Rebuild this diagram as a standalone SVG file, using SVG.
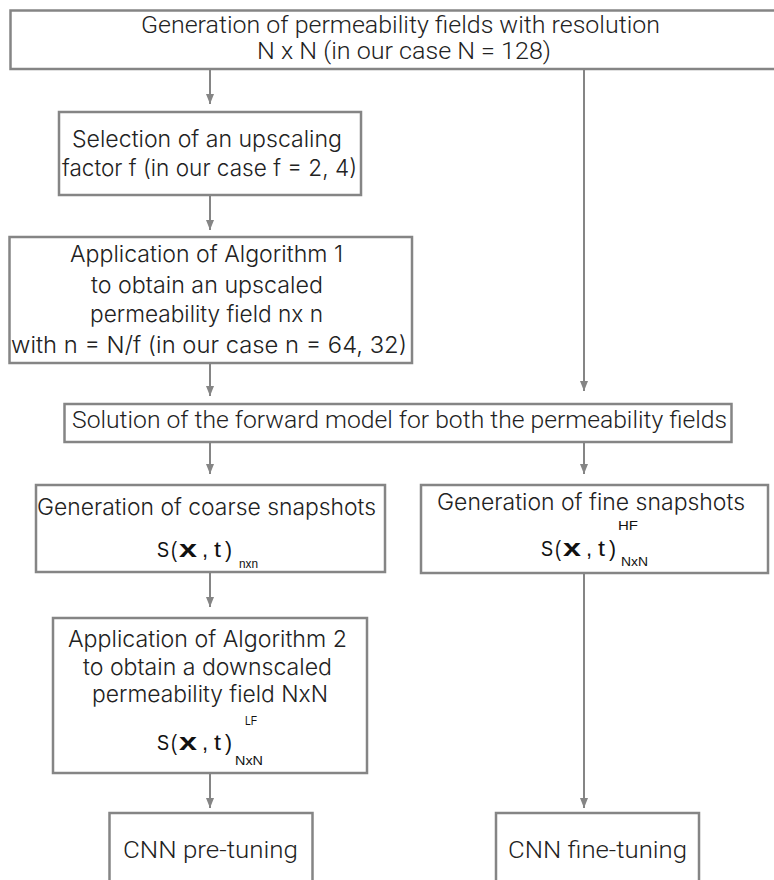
<svg xmlns="http://www.w3.org/2000/svg" width="774" height="880" viewBox="0 0 774 880">
<style>
.box{fill:#fff;stroke:#858585;stroke-width:2.5}
.t{font-family:Inter,"Open Sans","Liberation Sans",sans-serif;font-weight:300;font-size:23px;fill:#222}
.c{font-family:Roboto,"Liberation Sans",sans-serif;font-weight:300;font-size:23px;fill:#222}
.m{font-family:"Liberation Sans",Arial,sans-serif;font-size:22px;fill:#111}
.mb{font-weight:bold;font-size:23px}
.s{font-family:"Liberation Sans",Arial,sans-serif;font-size:13px;fill:#111}
.ln{stroke:#858585;stroke-width:2;fill:none}
</style>
<defs>
<marker id="ah" markerUnits="userSpaceOnUse" markerWidth="10" markerHeight="8" refX="10" refY="4" orient="auto">
<path d="M0,0 L10,4 L0,8 z" fill="#858585"/>
</marker>
</defs>
<rect width="774" height="880" fill="#fff"/>
<g id="connectors">
<line class="ln" x1="210" y1="69" x2="210" y2="104" marker-end="url(#ah)"/>
<line class="ln" x1="584" y1="69" x2="584" y2="391" marker-end="url(#ah)"/>
<line class="ln" x1="210" y1="195" x2="210" y2="230" marker-end="url(#ah)"/>
<line class="ln" x1="210" y1="363" x2="210" y2="396" marker-end="url(#ah)"/>
<line class="ln" x1="210" y1="442" x2="210" y2="474" marker-end="url(#ah)"/>
<line class="ln" x1="584" y1="442" x2="584" y2="474" marker-end="url(#ah)"/>
<line class="ln" x1="210" y1="572" x2="210" y2="607" marker-end="url(#ah)"/>
<line class="ln" x1="210" y1="773" x2="210" y2="808" marker-end="url(#ah)"/>
<line class="ln" x1="584" y1="573" x2="584" y2="808" marker-end="url(#ah)"/>
</g>
<g id="top">
<rect class="box" x="10.5" y="10.5" width="780" height="58.5"/>
<text class="c" x="141" y="32.5" textLength="519" lengthAdjust="spacingAndGlyphs">Generation of permeability fields with resolution</text>
<text class="c" x="257" y="58.5" textLength="294" lengthAdjust="spacingAndGlyphs">N x N (in our case N = 128)</text>
</g>
<g id="selection">
<rect class="box" x="59" y="112" width="302" height="83"/>
<text class="t" x="72" y="147" textLength="270" lengthAdjust="spacingAndGlyphs">Selection of an upscaling</text>
<text class="t" x="62" y="176" textLength="295" lengthAdjust="spacingAndGlyphs">factor f (in our case f = 2, 4)</text>
</g>
<g id="algorithm1">
<rect class="box" x="9.5" y="237" width="402.5" height="126"/>
<text class="t" x="70" y="262" textLength="273" lengthAdjust="spacingAndGlyphs">Application of Algorithm 1</text>
<text class="t" x="91" y="293" textLength="232" lengthAdjust="spacingAndGlyphs">to obtain an upscaled</text>
<text class="t" x="90" y="322" textLength="233" lengthAdjust="spacingAndGlyphs">permeability field nx n</text>
<text class="t" x="11" y="353" textLength="396" lengthAdjust="spacingAndGlyphs">with n = N/f (in our case n = 64, 32)</text>
</g>
<g id="solution">
<rect class="box" x="64.5" y="404" width="667" height="38"/>
<text class="c" x="72" y="428" textLength="655" lengthAdjust="spacingAndGlyphs">Solution of the forward model for both the permeability fields</text>
</g>
<g id="coarse">
<rect class="box" x="36" y="485" width="349" height="87"/>
<text class="t" x="37" y="515" textLength="339" lengthAdjust="spacingAndGlyphs">Generation of coarse snapshots</text>
<text class="m" y="557"><tspan x="157" textLength="12" lengthAdjust="spacingAndGlyphs">S</tspan><tspan x="171" textLength="6" lengthAdjust="spacingAndGlyphs">(</tspan><tspan x="179" class="mb" textLength="18" lengthAdjust="spacingAndGlyphs">x</tspan><tspan x="202">,</tspan><tspan x="214" textLength="7" lengthAdjust="spacingAndGlyphs">t</tspan><tspan x="225" textLength="7" lengthAdjust="spacingAndGlyphs">)</tspan></text>
<text class="s" x="239" y="568" textLength="19" lengthAdjust="spacingAndGlyphs">nxn</text>
</g>
<g id="fine">
<rect class="box" x="421" y="485" width="347" height="88"/>
<text class="t" x="437" y="510" textLength="308" lengthAdjust="spacingAndGlyphs">Generation of fine snapshots</text>
<text class="s" x="618" y="530" textLength="20" lengthAdjust="spacingAndGlyphs">HF</text>
<text class="m" y="556"><tspan x="541" textLength="12" lengthAdjust="spacingAndGlyphs">S</tspan><tspan x="555" textLength="6" lengthAdjust="spacingAndGlyphs">(</tspan><tspan x="563" class="mb" textLength="18" lengthAdjust="spacingAndGlyphs">x</tspan><tspan x="586">,</tspan><tspan x="598" textLength="7" lengthAdjust="spacingAndGlyphs">t</tspan><tspan x="609" textLength="7" lengthAdjust="spacingAndGlyphs">)</tspan></text>
<text class="s" x="621" y="566" textLength="27" lengthAdjust="spacingAndGlyphs">NxN</text>
</g>
<g id="algorithm2">
<rect class="box" x="53" y="618" width="314" height="155"/>
<text class="t" x="68" y="647" textLength="279" lengthAdjust="spacingAndGlyphs">Application of Algorithm 2</text>
<text class="t" x="83" y="675" textLength="249" lengthAdjust="spacingAndGlyphs">to obtain a downscaled</text>
<text class="t" x="92" y="702" textLength="236" lengthAdjust="spacingAndGlyphs">permeability field NxN</text>
<text class="s" x="245" y="725" textLength="12" lengthAdjust="spacingAndGlyphs">LF</text>
<text class="m" y="750"><tspan x="157" textLength="12" lengthAdjust="spacingAndGlyphs">S</tspan><tspan x="171" textLength="6" lengthAdjust="spacingAndGlyphs">(</tspan><tspan x="179" class="mb" textLength="18" lengthAdjust="spacingAndGlyphs">x</tspan><tspan x="202">,</tspan><tspan x="214" textLength="7" lengthAdjust="spacingAndGlyphs">t</tspan><tspan x="225" textLength="7" lengthAdjust="spacingAndGlyphs">)</tspan></text>
<text class="s" x="235" y="765" textLength="28" lengthAdjust="spacingAndGlyphs">NxN</text>
</g>
<g id="pretuning">
<rect class="box" x="109.5" y="813" width="203" height="80"/>
<text class="c" x="123" y="858" textLength="175" lengthAdjust="spacingAndGlyphs">CNN pre-tuning</text>
</g>
<g id="finetuning">
<rect class="box" x="496" y="813" width="203" height="80"/>
<text class="c" x="508" y="858" textLength="179" lengthAdjust="spacingAndGlyphs">CNN fine-tuning</text>
</g>
</svg>
